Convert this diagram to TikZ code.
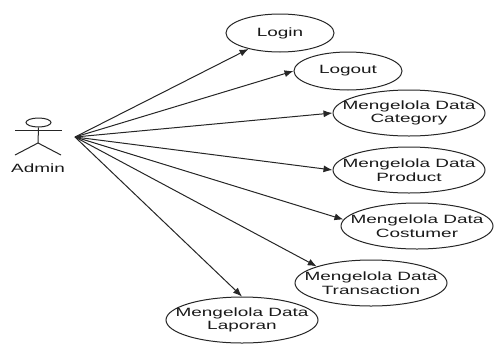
\documentclass[tikz,border=0pt]{standalone}
\usepackage{fontspec}
\newfontfamily\lab[FakeStretch=1.58]{Liberation Sans}
\usetikzlibrary{shapes.geometric,arrows.meta}
\tikzset{
  usecase/.style={ellipse,draw=black!85,line width=1pt,inner xsep=-16pt,inner ysep=-10pt,align=center,text=black!90,
    font=\lab\fontsize{12}{13.5}\selectfont},
  small/.style={usecase,minimum width=108pt,minimum height=38pt},
  big/.style={usecase,minimum width=152pt,minimum height=46pt},
  assoc/.style={draw=black!85,line width=1pt,-{Latex[length=9pt,width=7pt]}},
  actorline/.style={draw=black!85,line width=1pt}
}
\begin{document}
\begin{tikzpicture}[x=1pt,y=-1pt]
\useasboundingbox (0,0) rectangle (494,343);
\node[small] (login) at (280,33) {Login};
\node[small] (logout) at (348,71) {Logout};
\node[big] (category) at (409,113) {Mengelola Data\\Category};
\node[big] (product) at (409,170) {Mengelola Data\\Product};
\node[big] (costumer) at (417,226) {Mengelola Data\\Costumer};
\node[big] (transaction) at (371,283) {Mengelola Data\\Transaction};
\node[big] (laporan) at (242,320) {Mengelola Data\\Laporan};
% actor
\node[ellipse,actorline,minimum width=25pt,minimum height=9pt,inner sep=0pt] (head) at (38.5,122.5) {};
\coordinate (neck) at (38,130);
\coordinate (hip) at (38,143);
\coordinate (handl) at (15,130);
\coordinate (handr) at (62,130);
\coordinate (footl) at (15,155);
\coordinate (footr) at (61,155);
\draw[actorline] (head.south) -- (hip);
\draw[actorline] (handl) -- (handr);
\draw[actorline] (footl) -- (hip) -- (footr);
\node[font=\lab\fontsize{12}{14}\selectfont,text=black!90,inner sep=0pt] (admin) at (38,168) {Admin};
\coordinate (src) at (75,137);
\draw[assoc] (src) -- (login);
\draw[assoc] (src) -- (logout.west);
\draw[assoc] (src) -- (category.west);
\draw[assoc] (src) -- (product.west);
\draw[assoc] (src) -- (costumer.175);
\draw[assoc] (src) -- (transaction.163);
\draw[assoc] (src) -- (laporan.north);
\end{tikzpicture}
\end{document}
